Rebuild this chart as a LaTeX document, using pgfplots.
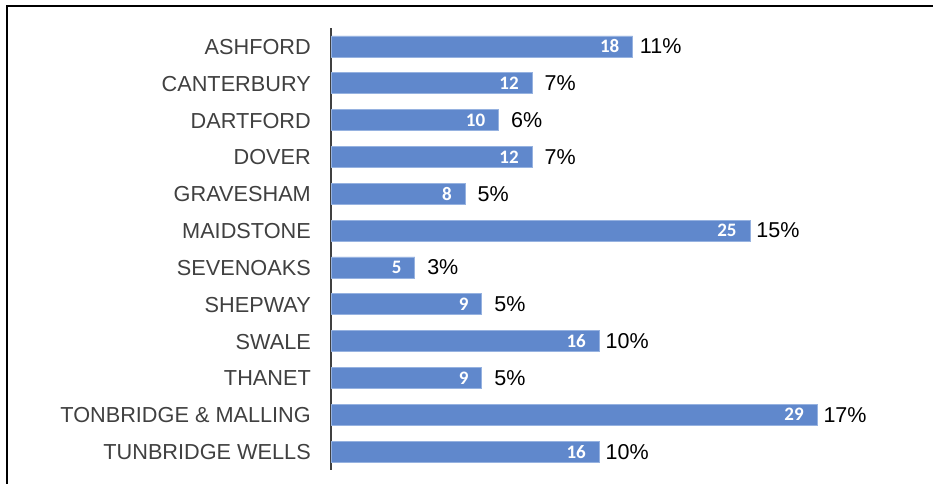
\documentclass[border=0pt]{standalone}
\usepackage{pgfplots}
\pgfplotsset{compat=1.18}
\usepackage{pgfplotstable}
\usepackage{fontspec}
\setmainfont{Liberation Sans}
\newfontfamily\calibri{Carlito}
\definecolor{barblue}{RGB}{96,136,204}
\definecolor{baredge}{RGB}{150,178,224}
\definecolor{labgray}{RGB}{64,64,64}
\pgfplotstableread{
idx val pct
0 18 11
1 12 7
2 10 6
3 12 7
4 8 5
5 25 15
6 5 3
7 9 5
8 16 10
9 9 5
10 29 17
11 16 10
}\kentdata
\begin{document}
\begin{tikzpicture}
\useasboundingbox (0pt,0pt) rectangle (933pt,-483pt);
\draw[line width=1.8pt, black] (7pt,-495pt) -- (7pt,-6pt) -- (945pt,-6pt);
\begin{axis}[
  at={(331pt,-470pt)}, anchor=south west,
  scale only axis, width=586.6pt, height=442pt,
  xmin=0, xmax=35, ymin=-0.5, ymax=11.5, y dir=reverse,
  xbar, bar width=21pt,
  axis x line=none, axis y line*=left,
  y axis line style={draw=labgray, line width=1.8pt},
  major tick length=0pt, ytick style={draw=none},
  ytick={0,...,11},
  yticklabels={ASHFORD,CANTERBURY,DARTFORD,DOVER,GRAVESHAM,MAIDSTONE,SEVENOAKS,SHEPWAY,SWALE,THANET,{TONBRIDGE \& MALLING},TUNBRIDGE WELLS},
  yticklabel style={font=\fontsize{21.7}{25}\selectfont, text=labgray, inner sep=0pt, xshift=-20pt, yshift=-0.5pt},
  clip=false,
]
\addplot[fill=barblue, draw=baredge, line width=0.8pt, bar shift=0pt,
  point meta=explicit symbolic,
  nodes near coords={\pgfplotspointmeta},
  every node near coord/.append style={anchor=east, inner sep=0pt, xshift=-13pt, text=white, font=\calibri\bfseries\fontsize{19}{21}\selectfont}]
  table[x=val, y=idx, meta=val] {\kentdata};
\addplot[draw=none, fill=none, bar shift=0pt,
  point meta=explicit symbolic,
  nodes near coords={\pgfplotspointmeta\%},
  every node near coord/.append style={anchor=center, xshift=28pt, text=black, font=\fontsize{21.5}{25}\selectfont}]
  table[x=val, y=idx, meta=pct] {\kentdata};
\end{axis}
\end{tikzpicture}
\end{document}
